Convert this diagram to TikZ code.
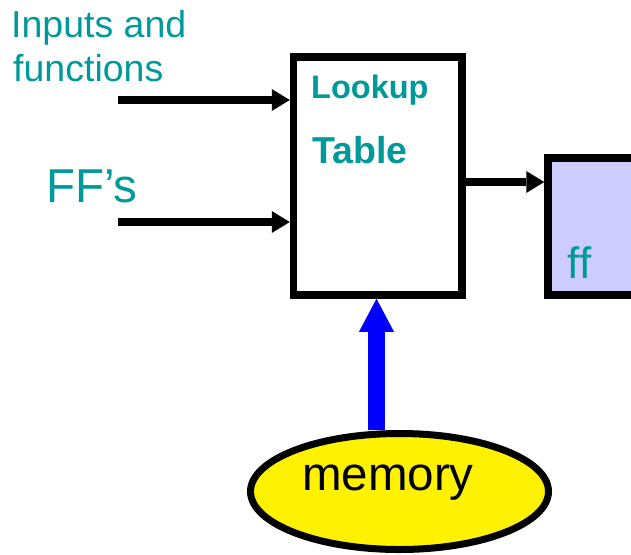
\documentclass[tikz,border=0pt]{standalone}
\usepackage{fontspec}
\setmainfont{Liberation Sans}
\usetikzlibrary{arrows.meta,shapes.geometric}
\definecolor{tealtxt}{HTML}{009999}
\definecolor{fflilac}{HTML}{CCCCFF}
\begin{document}
\begin{tikzpicture}[x=1pt,y=-1pt,
  blockbox/.style={draw=black,line width=7.5pt,inner sep=0pt},
  feed/.style={draw=black,line width=7.5pt,-{Triangle[length=18pt,width=22pt,line width=0pt]}},
  memfeed/.style={draw=blue,line width=17pt,-{Triangle[length=33pt,width=35pt,line width=0pt]}},
  lbl/.style={anchor=base west,inner sep=0pt,text=tealtxt}]
\clip (0,0) rectangle (631,554);

% lookup table and flip-flop blocks
\node[blockbox,fill=white,minimum width=168.5pt,minimum height=238pt] (lut) at (377.75,176) {};
\node[blockbox,fill=fflilac,minimum width=97pt,minimum height=137pt] (ff) at (596.5,226.5) {};

% memory
\node[ellipse,draw=black,line width=7pt,fill=yellow,inner sep=0pt,
      minimum width=298pt,minimum height=116pt] (memory) at (399.5,491.5) {};

% input and output connections
\coordinate (in1) at (118,100);
\coordinate (in2) at (118,222);
\coordinate (outy) at (500,182);
\coordinate (memx) at (376.5,400);
\draw[feed] (in1) -- (in1 -| lut.west);
\draw[feed] (in2) -- (in2 -| lut.west);
\draw[feed] (outy -| lut.east) -- (outy -| ff.west);
\draw[memfeed] (memory.north -| memx) -- (lut.south -| memx);

% labels
\node[lbl,font=\fontsize{37.5}{40}\selectfont] (inl1) at (11,37) {Inputs and};
\node[lbl,font=\fontsize{37.5}{40}\selectfont] (inl2) at (13,81) {functions};
\node[lbl,font=\fontsize{47.5}{50}\selectfont] (ffsl) at (46,202) {FF’s};
\node[lbl,font=\bfseries\fontsize{32.5}{34}\selectfont] (lookl) at (311,98) {Lookup};
\node[lbl,font=\bfseries\fontsize{37.5}{40}\selectfont] (tabl) at (312,163) {Table};
\node[lbl,font=\fontsize{44}{48}\selectfont] (ffl) at (567,278) {f\kern0ptf};
\node[anchor=base west,inner sep=0pt,font=\fontsize{47.5}{50}\selectfont] (meml) at (302,490) {memory};
\end{tikzpicture}
\end{document}
